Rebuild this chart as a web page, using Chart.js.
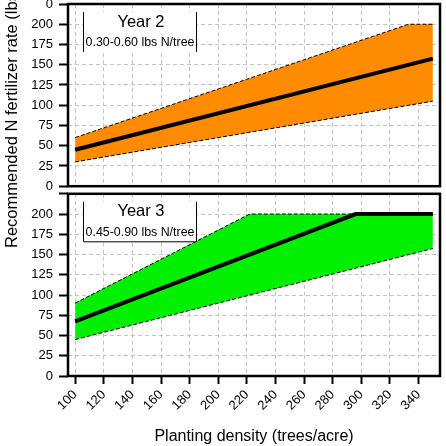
<!DOCTYPE html>
<html>
<head>
<meta charset="utf-8">
<script src="https://cdn.jsdelivr.net/npm/chart.js@4"></script>
<style>
  html, body { margin: 0; padding: 0; background: #fff; }
  #wrap { position: relative; width: 446px; height: 446px; overflow: hidden; }
  canvas { position: absolute; left: 0; }
  #topChart { top: -10px; }
  #bottomChart { top: 180px; }
  #yTitle {
    position: absolute; left: 2px; top: 248px;
    transform-origin: 0 0; transform: rotate(-90deg);
    font: 16.5px "Liberation Sans", Arial, sans-serif; line-height: 18px;
    white-space: nowrap; color: #000;
  }
</style>
</head>
<body>
<div id="wrap">
  <canvas id="topChart" width="446" height="210"></canvas>
  <canvas id="bottomChart" width="446" height="266"></canvas>
  <div id="yTitle">Recommended N fertilizer rate (lbs N/acre)</div>
</div>
<script>
// Axis ticks
const densityTicks = [100, 120, 140, 160, 180, 200, 220, 240, 260, 280, 300, 320, 340];
const rateTicks = [0, 25, 50, 75, 100, 125, 150, 175, 200];
const rateMax = 225; // panel edge (0 of the panel above)

// Year 2 (0.30-0.60 lbs N/tree)
const y2Density = [100, 350];
const y2Center = [45, 157.5];
const y2Lower = [30, 105];
const y2UpperDensity = [100, 333, 350];
const y2Upper = [60, 200, 200];

// Year 3 (0.45-0.90 lbs N/tree)
const y3CenterDensity = [100, 296, 350];
const y3Center = [67.5, 200, 200];
const y3LowerDensity = [100, 350];
const y3Lower = [45, 157.5];
const y3UpperDensity = [100, 222, 350];
const y3Upper = [90, 200, 200];

const panelTitles = ["Year 2", "Year 3"];
const panelRanges = ["0.30-0.60 lbs N/tree", "0.45-0.90 lbs N/tree"];

const FONT = '"Liberation Sans", Arial, sans-serif';

function pts(xs, ys) {
  return xs.map((x, i) => ({ x: x, y: ys[i] }));
}

// frame + label box
const panelPlugin = {
  id: "panel",
  afterDatasetsDraw(chart, args, opts) {
    const ctx = chart.ctx;
    const a = chart.chartArea;
    const bx = a.left + 15, by = a.top + 8, bw = 114, bh = 40;
    ctx.save();
    ctx.fillStyle = "#fff";
    ctx.fillRect(bx, by, bw, bh);
    ctx.strokeStyle = "#000";
    ctx.lineWidth = 1;
    ctx.beginPath();
    ctx.moveTo(bx + 0.5, by);
    ctx.lineTo(bx + 0.5, by + bh);
    if (opts.boxBottom) ctx.lineTo(bx + bw - 0.5, by + bh);
    else ctx.moveTo(bx + bw - 0.5, by + bh);
    ctx.lineTo(bx + bw - 0.5, by);
    ctx.stroke();
    ctx.fillStyle = "#000";
    ctx.textAlign = "center";
    ctx.textBaseline = "middle";
    ctx.font = "16.5px " + FONT;
    ctx.fillText(opts.title, bx + bw / 2 + 1, a.top + 18);
    ctx.font = "12.4px " + FONT;
    ctx.fillText(opts.range, bx + bw / 2, a.top + 39);
    ctx.lineWidth = 2.5;
    ctx.strokeRect(a.left, a.top, a.right - a.left, a.bottom - a.top);
    ctx.restore();
  }
};

function makeChart(id, color, center, upper, lower, idx, showX) {
  const gridCommon = {
    color: "#c4c4c4",
    lineWidth: 1,
    drawTicks: true,
    tickLength: 9,
    tickColor: "#000",
    tickWidth: 2,
    tickBorderDash: []
  };
  return new Chart(document.getElementById(id), {
    type: "line",
    data: {
      datasets: [
        { data: center, borderColor: "#000", borderWidth: 4, pointRadius: 0, fill: false },
        { data: upper, borderColor: "#000", borderWidth: 1, borderDash: [4, 2], pointRadius: 0, fill: false },
        { data: lower, borderColor: "#000", borderWidth: 1, borderDash: [4, 2], pointRadius: 0,
          fill: "-1", backgroundColor: color }
      ]
    },
    options: {
      responsive: false,
      devicePixelRatio: 1,
      animation: false,
      layout: showX
        ? { padding: { top: 11, right: 6, bottom: 0, left: 0 } }
        : { padding: { top: 14, right: 6, bottom: 10, left: 0 } },
      plugins: {
        legend: { display: false },
        tooltip: { enabled: false },
        panel: { title: panelTitles[idx], range: panelRanges[idx], boxBottom: idx === 1 }
      },
      elements: { line: { tension: 0 } },
      scales: {
        x: {
          type: "linear",
          min: 95,
          max: 355,
          afterBuildTicks: (s) => { s.ticks = densityTicks.map(v => ({ value: v })); },
          afterFit: (s) => { s.height = showX ? 70 : 0; },
          grid: Object.assign({}, gridCommon, { drawTicks: showX, tickLength: 8 }),
          border: { display: false, dash: [4, 3] },
          ticks: {
            display: showX,
            autoSkip: false,
            minRotation: 45,
            maxRotation: 45,
            padding: 3,
            color: "#000",
            font: { family: FONT, size: 13 }
          },
          title: {
            display: showX,
            text: "Planting density (trees/acre)",
            color: "#000",
            font: { family: FONT, size: 16 },
            padding: { top: 0, bottom: 0 }
          }
        },
        y: {
          type: "linear",
          min: 0,
          max: rateMax,
          afterBuildTicks: (s) => { s.ticks = rateTicks.concat([rateMax]).map(v => ({ value: v })); },
          afterFit: (s) => { s.width = 68; },
          grid: gridCommon,
          border: { display: false, dash: [4, 3] },
          ticks: {
            padding: 6,
            color: "#000",
            font: { family: FONT, size: 13 },
            callback: (v) => v === rateMax ? (showX ? "" : "0") : String(v)
          }
        }
      }
    },
    plugins: [panelPlugin]
  });
}

makeChart("topChart", "#FF8C00",
  pts(y2Density, y2Center), pts(y2UpperDensity, y2Upper), pts(y2Density, y2Lower), 0, false);
makeChart("bottomChart", "#00F000",
  pts(y3CenterDensity, y3Center), pts(y3UpperDensity, y3Upper), pts(y3LowerDensity, y3Lower), 1, true);
</script>
</body>
</html>
